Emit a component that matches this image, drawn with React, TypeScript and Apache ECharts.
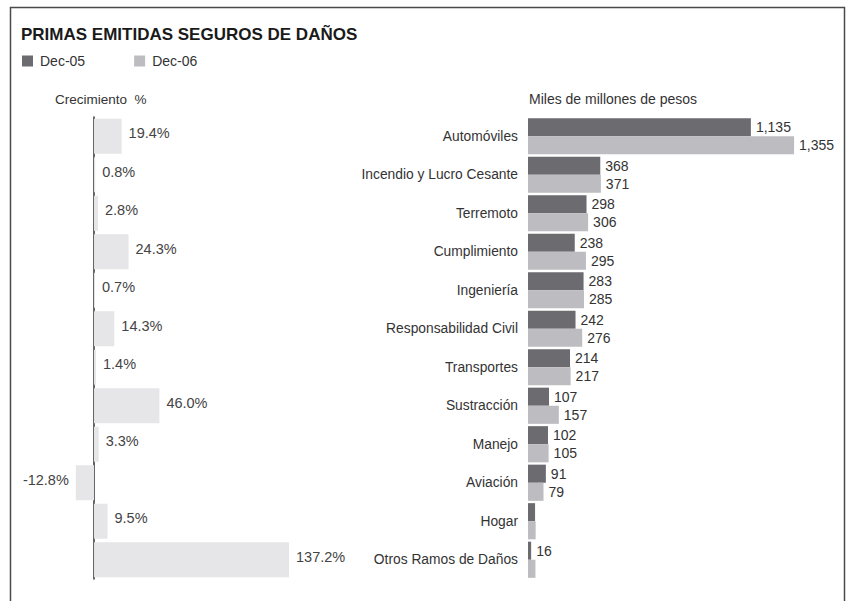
import React, { useEffect, useRef } from "react";
import * as echarts from "echarts";

const categories = [
  "Automóviles",
  "Incendio y Lucro Cesante",
  "Terremoto",
  "Cumplimiento",
  "Ingeniería",
  "Responsabilidad Civil",
  "Transportes",
  "Sustracción",
  "Manejo",
  "Aviación",
  "Hogar",
  "Otros Ramos de Daños",
];
const dec05 = [1135, 368, 298, 238, 283, 242, 214, 107, 102, 91, 36, 16];
const dec06 = [1355, 371, 306, 295, 285, 276, 217, 157, 105, 79, 39, 38];
const growth = [19.4, 0.8, 2.8, 24.3, 0.7, 14.3, 1.4, 46.0, 3.3, -12.8, 9.5, 137.2];
// labels not printed in the original
const hidden05 = ["Hogar"];
const hidden06 = ["Hogar", "Otros Ramos de Daños"];

const FONT = "'Liberation Sans', Arial, sans-serif";
const DARK = "#6b6b70";
const LIGHT = "#bdbdc1";

export default function App() {
  const ref = useRef<HTMLDivElement>(null);
  useEffect(() => {
    const chart = echarts.init(ref.current!, null, { renderer: "svg" });
    const fmt = (hidden: string[]) => (p: any) =>
      hidden.includes(categories[p.dataIndex]) ? "" : Number(p.value).toLocaleString("en-US");
    chart.setOption({
      animation: false,
      textStyle: { fontFamily: FONT },
      title: {
        text: "PRIMAS EMITIDAS SEGUROS DE DAÑOS",
        left: 16,
        top: 21,
        textStyle: { fontSize: 17, fontWeight: "bold", color: "#1a1a1a", fontFamily: FONT },
      },
      legend: {
        left: 17,
        top: 49,
        icon: "rect",
        itemWidth: 11,
        itemHeight: 11,
        itemGap: 49,
        textStyle: { fontSize: 14, color: "#333", fontFamily: FONT, padding: [0, 0, 0, 2] },
        data: ["Dec-05", "Dec-06"],
      },
      graphic: [
        {
          type: "rect",
          shape: { x: 10.5, y: 7.5, width: 834, height: 640 },
          style: { fill: "none", stroke: "#4a4a4a", lineWidth: 1.5 },
          silent: true,
        },
        {
          type: "text",
          x: 55,
          y: 99,
          style: { text: "Crecimiento  %", fontSize: 13.5, fill: "#333", fontFamily: FONT, verticalAlign: "middle" },
        },
        {
          type: "text",
          x: 529,
          y: 99,
          style: { text: "Miles de millones de pesos", fontSize: 14, fill: "#333", fontFamily: FONT, verticalAlign: "middle" },
        },
      ],
      grid: [
        { left: 65.6, top: 117, width: 255.8, height: 462 },
        { left: 528, top: 117, width: 314.2, height: 462 },
      ],
      xAxis: [
        { type: "value", gridIndex: 0, min: -20, max: 160, show: false },
        { type: "value", gridIndex: 1, min: 0, max: 1600, show: false },
      ],
      yAxis: [
        {
          type: "category",
          gridIndex: 0,
          data: categories,
          inverse: true,
          axisLine: { show: true, onZero: true, lineStyle: { color: "#333", width: 1.5 } },
          axisTick: { show: false },
          axisLabel: { show: false },
        },
        {
          type: "category",
          gridIndex: 1,
          data: categories,
          inverse: true,
          axisLine: { show: false },
          axisTick: { show: false },
          axisLabel: { color: "#333", fontSize: 13.8, margin: 10, fontFamily: FONT },
        },
      ],
      series: [
        {
          type: "bar",
          name: "Crecimiento",
          xAxisIndex: 0,
          yAxisIndex: 0,
          data: growth.map((v) => ({
            value: v,
            label: { position: v < 0 ? "left" : "right" },
          })),
          barCategoryGap: "9%",
          itemStyle: { color: "#e6e6e8" },
          label: {
            show: true,
            distance: 7,
            offset: [0, -3],
            color: "#444",
            fontSize: 14.5,
            fontFamily: FONT,
            formatter: (p: any) => `${Number(p.value).toFixed(1)}%`,
          },
        },
        {
          type: "bar",
          name: "Dec-05",
          xAxisIndex: 1,
          yAxisIndex: 1,
          data: dec05,
          barGap: "0%",
          barCategoryGap: "6%",
          itemStyle: { color: DARK },
          label: { show: true, position: "right", distance: 5, color: "#333", fontSize: 14, fontFamily: FONT, formatter: fmt(hidden05) },
        },
        {
          type: "bar",
          name: "Dec-06",
          xAxisIndex: 1,
          yAxisIndex: 1,
          data: dec06,
          barGap: "0%",
          barCategoryGap: "6%",
          itemStyle: { color: LIGHT },
          label: { show: true, position: "right", distance: 5, color: "#333", fontSize: 14, fontFamily: FONT, formatter: fmt(hidden06) },
        },
      ],
    });
    return () => chart.dispose();
  }, []);
  return (
    <div
      ref={ref}
      style={{ position: "fixed", left: 0, top: 0, width: 846, height: 601, background: "#fff" }}
    />
  );
}
